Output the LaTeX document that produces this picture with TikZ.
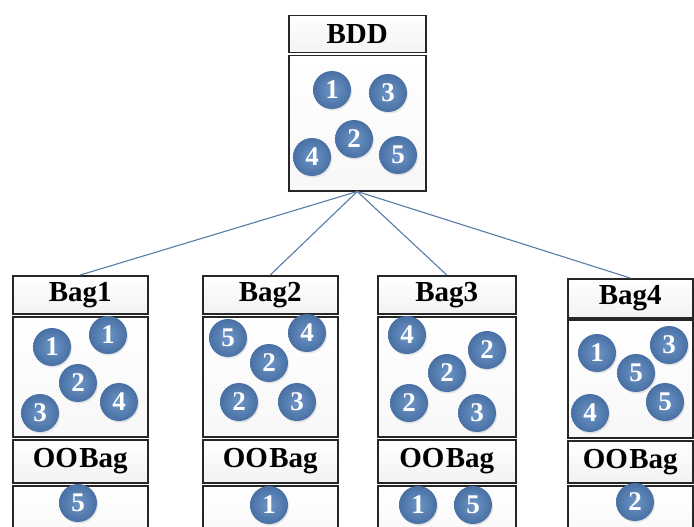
\documentclass[tikz,border=0pt]{standalone}
\usepackage{fontspec}
\setmainfont{Liberation Serif}
\usetikzlibrary{shadows}
\definecolor{ballin}{HTML}{6E95C6}
\definecolor{ballout}{HTML}{4870A4}
\definecolor{linkblue}{HTML}{587CA8}
\definecolor{framegray}{HTML}{262626}
\tikzset{
  cell/.style={draw=framegray, line width=1.5pt, anchor=north west, inner sep=0pt,
    top color=white, bottom color=gray!6},
  title/.style={cell, bottom color=gray!10, text=black,
    font=\bfseries\fontsize{29}{30}\selectfont},
  ball/.style={circle, minimum size=38pt, inner sep=0pt, inner color=ballin,
    outer color=ballout, text=white, font=\bfseries\fontsize{27}{27}\selectfont,
    drop shadow={opacity=0.2, shadow xshift=1pt, shadow yshift=-1.5pt}},
  link/.style={draw=linkblue, line width=1.1pt}
}
\begin{document}
\begin{tikzpicture}[x=1pt, y=-1pt]
  \clip (0,0) rectangle (694,527);
  \fill[white] (0,0) rectangle (694,527);

  % root container
  \node[title, minimum width=137pt, minimum height=37pt] (bddH) at (288,15) {BDD};
  \node[cell, minimum width=137pt, minimum height=135pt] (bddB) at (288,55) {};

  % bag 1
  \node[title, minimum width=135pt, minimum height=38pt] (bag1H) at (12,275) {Bag1};
  \node[cell, minimum width=135pt, minimum height=120pt] (bag1B) at (12,316) {};
  \node[title, minimum width=135pt, minimum height=43pt] (oo1H) at (12,439) {OO\kern1.5ptBag};
  \node[cell, minimum width=135pt, minimum height=60pt] (oo1B) at (12,485) {};

  % bag 2
  \node[title, minimum width=135pt, minimum height=38pt] (bag2H) at (202,275) {Bag2};
  \node[cell, minimum width=135pt, minimum height=120pt] (bag2B) at (202,316) {};
  \node[title, minimum width=135pt, minimum height=43pt] (oo2H) at (202,439) {OO\kern1.5ptBag};
  \node[cell, minimum width=135pt, minimum height=60pt] (oo2B) at (202,485) {};

  % bag 3
  \node[title, minimum width=138pt, minimum height=38pt] (bag3H) at (377,275) {Bag3};
  \node[cell, minimum width=138pt, minimum height=120pt] (bag3B) at (377,316) {};
  \node[title, minimum width=138pt, minimum height=43pt] (oo3H) at (377,439) {OO\kern1.5ptBag};
  \node[cell, minimum width=138pt, minimum height=60pt] (oo3B) at (377,485) {};

  % bag 4
  \node[title, minimum width=125pt, minimum height=39pt] (bag4H) at (567,278) {Bag4};
  \node[cell, minimum width=125pt, minimum height=118pt] (bag4B) at (567,319) {};
  \node[title, minimum width=125pt, minimum height=42pt] (oo4H) at (567,440) {OO\kern1.5ptBag};
  \node[cell, minimum width=125pt, minimum height=60pt] (oo4B) at (567,485) {};

  % links from the root to each bag
  \foreach \b in {bag1H,bag2H,bag3H,bag4H}
    \draw[link] (bddB.south) -- (\b.north);

  % root items
  \node[ball] (r1) at (332,90) {1};
  \node[ball] (r3) at (388,93) {3};
  \node[ball] (r2) at (354,139) {2};
  \node[ball] (r4) at (312,157) {4};
  \node[ball] (r5) at (398,155) {5};

  % bag 1 items
  \node[ball] (a1) at (52,347) {1};
  \node[ball] (a2) at (108,335) {1};
  \node[ball] (a3) at (78,383) {2};
  \node[ball] (a4) at (119,402) {4};
  \node[ball] (a5) at (40,413) {3};
  \node[ball] (a6) at (78,503) {5};

  % bag 2 items
  \node[ball] (c1) at (228,338) {5};
  \node[ball] (c2) at (307,333) {4};
  \node[ball] (c3) at (269,363) {2};
  \node[ball] (c4) at (239,402) {2};
  \node[ball] (c5) at (297,402) {3};
  \node[ball] (c6) at (269,505) {1};

  % bag 3 items
  \node[ball] (d1) at (407,335) {4};
  \node[ball] (d2) at (487,350) {2};
  \node[ball] (d3) at (447,373) {2};
  \node[ball] (d4) at (409,403) {2};
  \node[ball] (d5) at (477,413) {3};
  \node[ball] (d6) at (418,505) {1};
  \node[ball] (d7) at (473,505) {5};

  % bag 4 items
  \node[ball] (e1) at (597,353) {1};
  \node[ball] (e2) at (669,345) {3};
  \node[ball] (e3) at (636,373) {5};
  \node[ball] (e4) at (665,402) {5};
  \node[ball] (e5) at (590,413) {4};
  \node[ball] (e6) at (635,502) {2};
\end{tikzpicture}
\end{document}
